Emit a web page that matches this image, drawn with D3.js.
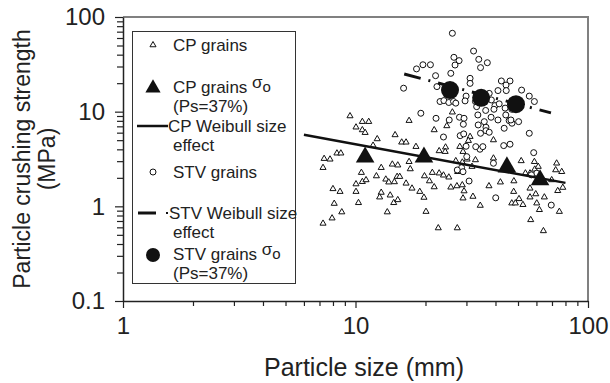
<!DOCTYPE html>
<html>
<head>
<meta charset="utf-8">
<script src="https://cdn.jsdelivr.net/npm/d3@7/dist/d3.min.js"></script>
<style>
  html, body { margin: 0; padding: 0; background: #fff; }
  svg { display: block; font-family: "Liberation Sans", Arial, sans-serif; }
</style>
</head>
<body>
<svg id="chart" width="610" height="383"></svg>
<script>
// ---------- data ----------
const xTickLabels = ["1", "10", "100"];
const yTickLabels = ["0.1", "1", "10", "100"];

const cpX = [9.47,10.05,10.7,11.4,10.7,11.0,12.4,11.9,14.8,15.8,16.5,17.0,18.2,21.8,24.7,26.1,24.4,31.1,30.6,28.1,39.2,
  7.25,7.33,7.77,8.32,8.65,8.0,8.58,8.1,8.73,7.93,7.25,10.05,10.6,10.05,10.3,10.7,11.1,12.3,12.9,13.5,13.9,14.7,15.1,15.5,
  14.4,15.2,17.0,17.2,16.5,17.5,18.9,19.7,12.9,12.7,14.1,14.6,15.2,13.7,20.1,19.8,20.8,21.8,21.4,22.9,23.9,25.2,25.7,27.3,
  28.8,29.3,29.0,32.0,34.4,22.7,27.4,22.9,24.3,27.5,29.0,27.0,28.8,30.2,31.7,32.8,39.2,37.5,42.0,48.0,51.6,53.8,56.3,59.0,
  58.8,61.1,56.3,59.6,47.9,50.5,47.0,48.7,52.5,56.3,60.2,61.8,56.7,64.3,64.9,73.3,72.6,77.1,74.1,77.9,75.3,69.8];
const cpY = [9.0,6.85,7.84,7.84,6.41,6.0,5.15,4.4,5.68,4.75,4.75,8.04,4.27,6.41,7.07,9.87,4.21,5.45,4.94,4.27,5.02,
  2.56,3.19,3.14,3.64,3.64,1.53,1.43,1.07,0.87,0.75,0.66,1.43,2.27,1.72,1.09,1.82,1.90,2.09,2.56,1.93,1.80,1.81,2.06,2.06,
  2.78,2.72,2.96,2.48,1.75,1.55,1.43,1.24,1.40,1.25,1.31,1.09,1.17,0.87,0.88,2.09,1.85,1.60,2.27,2.24,2.13,2.03,1.59,1.64,
  1.68,1.45,1.22,1.27,1.02,0.59,0.59,3.85,3.78,2.32,3.78,3.02,2.92,3.14,2.63,3.09,3.22,1.64,1.80,1.85,3.02,2.24,2.24,2.46,
  2.96,2.63,1.55,1.35,1.43,1.20,1.08,1.08,1.04,1.25,1.08,0.92,0.72,0.55,1.25,2.85,2.42,2.32,1.46,1.58,0.88,1.90];

const stvX = [26.1,26.5,27.9,26.8,32.2,33.9,36.9,34.5,18.3,19.5,21.0,22.1,25.7,16.1,22.4,31.1,31.1,42.4,46.2,44.4,51.8,41.0,
  44.5,37.6,55.9,58.8,29.9,29.6,23.1,24.0,25.2,26.4,27.0,32.8,33.2,38.4,39.8,41.5,44.0,47.0,36.3,39.4,19.1,22.2,25.3,28.0,
  29.3,33.6,35.8,38.3,41.0,44.3,45.8,43.6,47.1,50.3,46.6,29.1,33.7,36.4,
  23.9,28.2,29.2,34.5,36.4,37.6,34.3,35.3,32.9,29.9,30.1,28.6,29.0,30.8,43.4,46.2,55.9,58.4,39.2,60.2,57.1,40.1,69.5,27.4];
const stvY = [67.3,37.5,34.6,31.1,43.7,35.7,32.9,29.2,28.3,31.3,31.3,24.0,25.4,17.7,18.4,22.5,19.9,21.1,21.1,19.1,16.9,16.7,
  16.7,15.6,14.6,12.8,14.6,13.0,12.8,13.1,12.5,12.8,12.3,12.8,11.3,13.3,11.6,12.1,10.9,10.6,10.3,10.6,9.62,8.51,8.17,8.73,
  8.51,9.23,7.84,8.73,8.17,9.23,8.04,6.68,7.55,7.84,8.17,7.36,7.24,6.85,
  5.40,5.58,5.82,5.91,6.3,6.06,4.01,4.27,4.27,4.31,3.35,2.56,2.32,1.85,4.38,4.53,5.91,3.69,2.85,2.24,2.15,1.23,1.03,2.42];

const cpSigmaX = [11.0, 19.7, 44.8, 62.2];
const cpSigmaY = [3.3, 3.3, 2.6, 1.9];
const stvSigmaX = [25.5, 34.7, 49.0];
const stvSigmaY = [16.9, 14.0, 12.0];

const cpLineX = [6.0, 80.0];
const cpLineY = [5.7, 1.77];
const stvLineX = [16.2, 69.3];
const stvLineY = [25.0, 9.7];

const legendLabels = ["CP grains", "CP grains", "CP Weibull size", "STV grains", "STV Weibull size", "STV grains"];

// ---------- layout ----------
const svg = d3.select("#chart");
const L = 123, R = 588, T = 17, B = 301;
const x = d3.scaleLog().domain([1, 100]).range([L, R]);
const y = d3.scaleLog().domain([0.1, 100]).range([B, T]);
const FONT = "Liberation Sans, Arial, sans-serif";

// frame (top/right grey)
svg.append("path")
  .attr("d", `M${L},${T}H${R}V${B}`)
  .attr("fill", "none").attr("stroke", "#808080").attr("stroke-width", 2);

// x axis
const xTicks = [];
for (let d = 1; d < 100; d *= 10) for (let m = 1; m < 10; m++) xTicks.push(d * m);
xTicks.push(100);
const xAxis = d3.axisBottom(x).tickValues(xTicks)
  .tickFormat(v => { const i = [1, 10, 100].indexOf(v); return i >= 0 ? xTickLabels[i] : ""; })
  .tickSizeOuter(0).tickPadding(10);
const gx = svg.append("g").attr("transform", `translate(0,${B})`).call(xAxis);
gx.select(".domain").attr("stroke", "#222").attr("stroke-width", 1.5);
gx.selectAll(".tick line").attr("stroke", "#222").attr("stroke-width", 1.2)
  .attr("y2", v => ([1, 10, 100].includes(v) ? 7 : 5));
gx.selectAll(".tick text").attr("font-size", 24).attr("fill", "#222").attr("font-family", FONT);

// y axis
const yTicks = [];
for (let d = 0.1; d < 99; d *= 10) for (let m = 1; m < 10; m++) yTicks.push(+(d * m).toPrecision(3));
yTicks.push(100);
const yMaj = [0.1, 1, 10, 100];
const yAxis = d3.axisLeft(y).tickValues(yTicks)
  .tickFormat(v => { const i = yMaj.indexOf(v); return i >= 0 ? yTickLabels[i] : ""; })
  .tickSizeOuter(0).tickPadding(12);
const gy = svg.append("g").attr("transform", `translate(${L},0)`).call(yAxis);
gy.select(".domain").attr("stroke", "#222").attr("stroke-width", 1.5);
gy.selectAll(".tick line").attr("stroke", "#222").attr("stroke-width", 1.2)
  .attr("x2", v => (yMaj.includes(v) ? -8 : -6));
gy.selectAll(".tick text").attr("font-size", 24).attr("fill", "#222").attr("font-family", FONT);

// axis titles
svg.append("text").attr("x", 364).attr("y", 376).attr("text-anchor", "middle")
  .attr("font-size", 25).attr("fill", "#222").text("Particle size (mm)");
const yt = svg.append("text").attr("transform", "translate(22,159) rotate(-90)")
  .attr("text-anchor", "middle").attr("font-size", 23).attr("fill", "#222");
yt.append("tspan").attr("x", 0).attr("dy", "0.35em").text("Particle crushing strength");
yt.append("tspan").attr("x", 0).attr("dy", "1.1em").text("(MPa)");

// ---------- marks ----------
const smallTri = d3.symbol(d3.symbolTriangle, 16);
const bigTri = d3.symbol(d3.symbolTriangle, 150);

svg.append("g").selectAll("path").data(cpX.map((v, i) => [v, cpY[i]])).join("path")
  .attr("d", smallTri).attr("transform", d => `translate(${x(d[0])},${y(d[1])})`)
  .attr("fill", "#fff").attr("stroke", "#111").attr("stroke-width", 1);

svg.append("g").selectAll("circle").data(stvX.map((v, i) => [v, stvY[i]])).join("circle")
  .attr("cx", d => x(d[0])).attr("cy", d => y(d[1])).attr("r", 3)
  .attr("fill", "#fff").attr("stroke", "#111").attr("stroke-width", 1);

const line = d3.line().x(d => x(d[0])).y(d => y(d[1]));
svg.append("path").datum(cpLineX.map((v, i) => [v, cpLineY[i]])).attr("d", line)
  .attr("fill", "none").attr("stroke", "#111").attr("stroke-width", 2.5);
svg.append("path").datum(stvLineX.map((v, i) => [v, stvLineY[i]])).attr("d", line)
  .attr("fill", "none").attr("stroke", "#111").attr("stroke-width", 3)
  .attr("stroke-dasharray", "17,8,2,8");

svg.append("g").selectAll("path").data(cpSigmaX.map((v, i) => [v, cpSigmaY[i]])).join("path")
  .attr("d", bigTri).attr("transform", d => `translate(${x(d[0])},${y(d[1])})`)
  .attr("fill", "#111");
svg.append("g").selectAll("circle").data(stvSigmaX.map((v, i) => [v, stvSigmaY[i]])).join("circle")
  .attr("cx", d => x(d[0])).attr("cy", d => y(d[1])).attr("r", 9).attr("fill", "#111");

// ---------- legend ----------
const lg = svg.append("g").attr("font-size", 17).attr("fill", "#222");
lg.append("rect").attr("x", 132.5).attr("y", 31.5).attr("width", 163).attr("height", 252)
  .attr("fill", "#fff").attr("stroke", "#333").attr("stroke-width", 1);

lg.append("path").attr("d", smallTri).attr("transform", "translate(153,45)")
  .attr("fill", "#fff").attr("stroke", "#111");
lg.append("path").attr("d", d3.symbol(d3.symbolTriangle, 100)).attr("transform", "translate(153,88)")
  .attr("fill", "#111");
lg.append("line").attr("x1", 137).attr("x2", 168).attr("y1", 126).attr("y2", 126)
  .attr("stroke", "#111").attr("stroke-width", 2.5);
lg.append("circle").attr("cx", 153).attr("cy", 172).attr("r", 3)
  .attr("fill", "#fff").attr("stroke", "#111");
lg.append("line").attr("x1", 138).attr("x2", 156).attr("y1", 213).attr("y2", 213)
  .attr("stroke", "#111").attr("stroke-width", 3);
lg.append("line").attr("x1", 166).attr("x2", 168).attr("y1", 213).attr("y2", 213)
  .attr("stroke", "#111").attr("stroke-width", 2);
lg.append("circle").attr("cx", 153).attr("cy", 255).attr("r", 7).attr("fill", "#111");

function ltext(tx, ty, s) {
  return lg.append("text").attr("x", tx).attr("y", ty).attr("dy", "0.35em").text(s);
}
ltext(173, 45, legendLabels[0]);
const t2 = ltext(173, 87, legendLabels[1] + " ");
t2.append("tspan").attr("dy", "-0.3em").text("σ");
t2.append("tspan").attr("dy", "0.25em").attr("font-size", 15).text("o");
ltext(173, 106, "(Ps=37%)");
ltext(168, 126, legendLabels[2]);
ltext(173, 145, "effect");
ltext(173, 172, legendLabels[3]);
ltext(169, 213, legendLabels[4]);
ltext(173, 232, "effect");
const t6 = ltext(173, 254, legendLabels[5] + " ");
t6.append("tspan").attr("dy", "-0.3em").text("σ");
t6.append("tspan").attr("dy", "0.25em").attr("font-size", 15).text("o");
ltext(173, 273, "(Ps=37%)");
</script>
</body>
</html>
